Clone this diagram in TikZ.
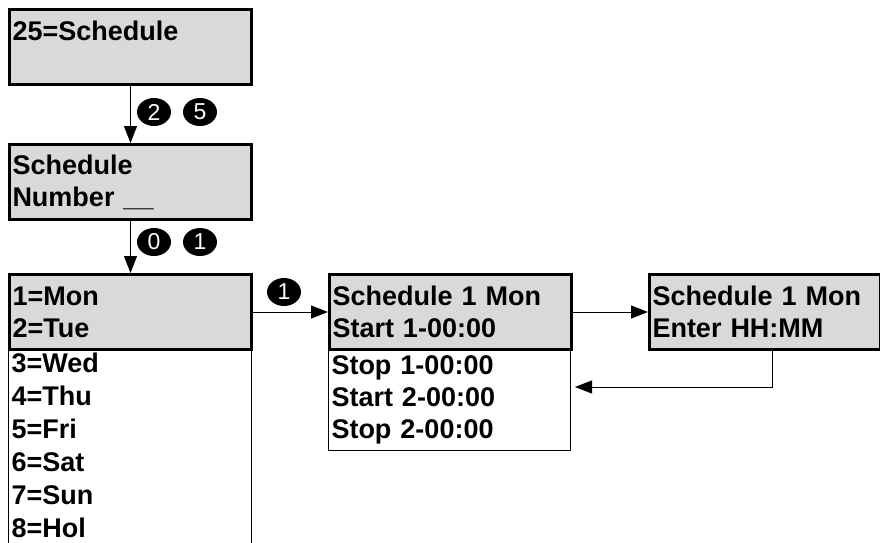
\documentclass[tikz,border=0pt]{standalone}
\usepackage{fontspec}
\setmainfont{Liberation Sans}
\usetikzlibrary{arrows.meta,shapes.geometric}
\definecolor{boxgray}{RGB}{217,217,217}
\tikzset{
  screen/.style={rectangle, draw, line width=1.5pt, fill=boxgray, anchor=north west,
    minimum width=121pt, minimum height=37.5pt, inner xsep=1.5pt, inner ysep=0pt,
    text width=118pt, align=left, font=\bfseries\fontsize{13.5}{16}\selectfont},
  menu/.style={rectangle, line width=0.5pt, anchor=north west,
    minimum width=121pt, inner xsep=1.5pt, inner ysep=0pt,
    text width=118pt, align=left, font=\bfseries\fontsize{13.5}{16}\selectfont},
  key/.style={ellipse, fill=black, text=white, inner sep=0pt,
    minimum width=17pt, minimum height=14pt, font=\fontsize{11.5}{11.5}\selectfont},
  arr/.style={line width=0.5pt, -{Triangle[length=8.5pt,width=6.5pt]}}
}
\begin{document}
\begin{tikzpicture}[x=0.5pt,y=-0.5pt]
  \useasboundingbox (0,0) rectangle (880,542);
  \node[menu, minimum height=97pt, font=\bfseries\fontsize{13.5}{16.5}\selectfont] (days) at (8,348)
    {3=Wed\\4=Thu\\5=Fri\\6=Sat\\7=Sun\\8=Hol};
  \draw[line width=0.5pt] (days.north west) -- (days.south west)
    (days.north east) -- (days.south east);
  \node[menu, draw, minimum height=51pt] (stops) at (328,348)
    {Stop 1-00:00\\Start 2-00:00\\Stop 2-00:00};
  \node[screen] (top) at (8,8) {25=Schedule\\\mbox{}};
  \node[screen] (num) at (8,143) {Schedule\\Number \_\_};
  \node[screen] (day) at (8,273) {1=Mon\\2=Tue};
  \node[screen] (mon) at (328,273) {Schedule 1 Mon\\Start 1-00:00};
  \node[screen, minimum width=115.5pt, text width=112.5pt] (hhmm) at (648,273)
    {Schedule 1 Mon\\Enter HH:MM};
  \node[key] (k2) at (154,112) {2};
  \node[key] (k5) at (200,112) {5};
  \node[key] (k0) at (154,242) {0};
  \node[key] (k1) at (200,242) {1};
  \node[key] (k1b) at (284,292) {1};
  \coordinate (back) at (575,387);
  \draw[arr] (top) -- (num);
  \draw[arr] (num) -- (day);
  \draw[arr] (day) -- (mon);
  \draw[arr] (mon) -- (hhmm);
  \draw[arr] ([xshift=3.5pt]hhmm.south) |- (back);
\end{tikzpicture}
\end{document}
